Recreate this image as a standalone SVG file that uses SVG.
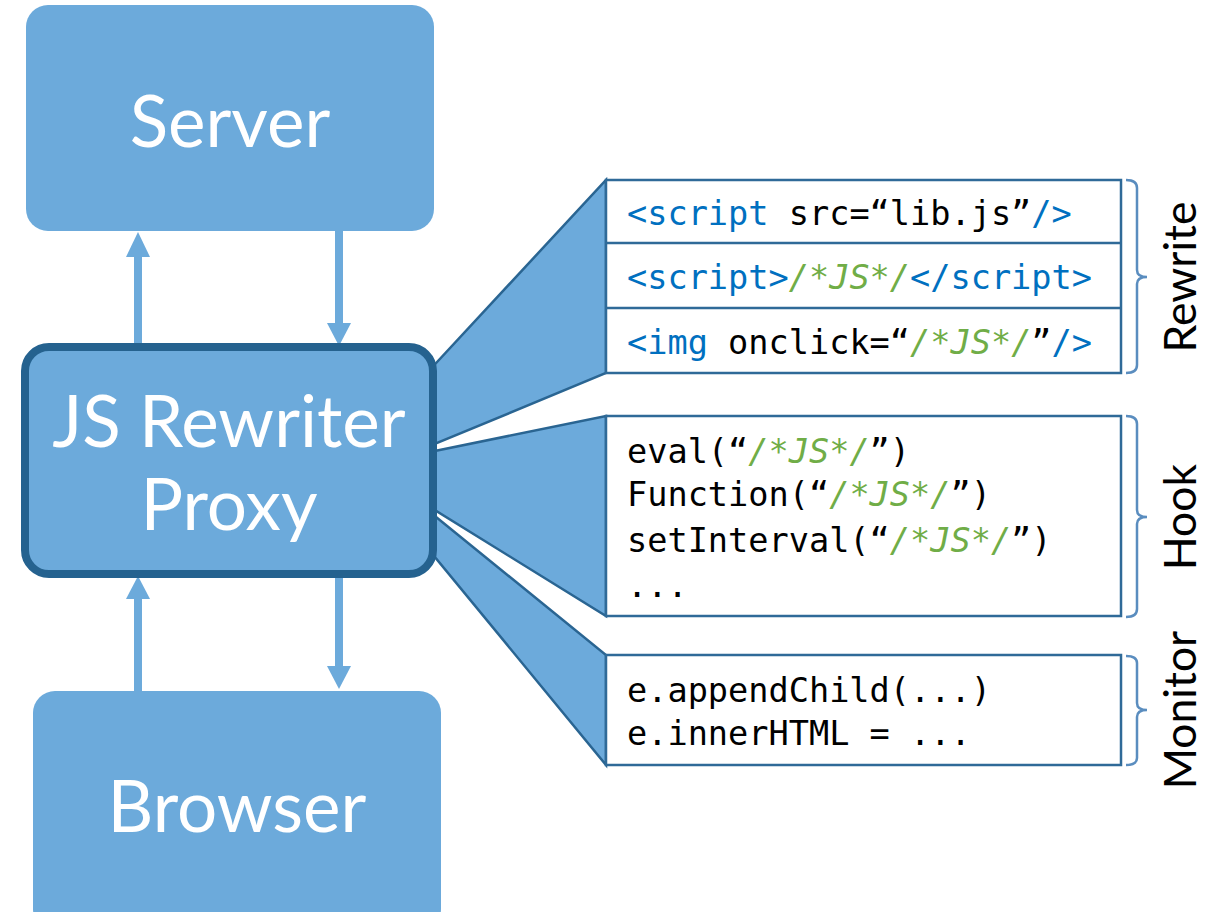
<svg xmlns="http://www.w3.org/2000/svg" width="1218" height="912" viewBox="0 0 1218 912">
<defs>
<style>
.box{fill:#6CAADB}
.lbl{font-family:Lato,"Open Sans","Liberation Sans",sans-serif;fill:#fff;font-size:71px;text-anchor:middle}
.side{font-family:Lato,"Open Sans","Liberation Sans",sans-serif;fill:#000;font-size:44.5px;text-anchor:middle}
.funnel{fill:#6CAADB;stroke:#2A6592;stroke-width:2.5;stroke-linejoin:miter}
.panel{fill:#fff;stroke:#2F6A98;stroke-width:2.5}
.brace{fill:none;stroke:#5A8DBF;stroke-width:2.5}
.code{font-family:"DejaVu Sans Mono","Liberation Mono",monospace;font-size:33.6px;fill:#000}
.k{fill:#0070C0}
.g{fill:#70AD47;font-style:italic}
.arr{stroke:#6CAADB;stroke-width:8;fill:none}
.head{fill:#6CAADB}
</style>
</defs>
<g id="connectors">
<line class="arr" x1="138" y1="347" x2="138" y2="252"/>
<polygon class="head" points="126,257 150,257 138,232"/>
<line class="arr" x1="339" y1="231" x2="339" y2="326"/>
<polygon class="head" points="327,323 351,323 339,346"/>
<line class="arr" x1="138" y1="691" x2="138" y2="594"/>
<polygon class="head" points="126,599 150,599 138,576"/>
<line class="arr" x1="339" y1="576" x2="339" y2="669"/>
<polygon class="head" points="327,666 351,666 339,689"/>
</g>
<g id="funnels">
<polygon class="funnel" points="425,375 606,180 606,373 425,448"/>
<polygon class="funnel" points="425,453 606,416 606,616 425,504"/>
<polygon class="funnel" points="425,508 606,655 606,765 425,545"/>
</g>
<g id="server">
<rect class="box" x="26" y="5" width="408" height="226" rx="22"/>
<text class="lbl" x="230" y="147">Server</text>
</g>
<g id="proxy">
<rect x="25" y="347" width="408" height="227" rx="24" fill="#6CAADB" stroke="#25628F" stroke-width="8"/>
<text class="lbl" x="229" y="447">JS Rewriter</text>
<text class="lbl" x="229" y="530">Proxy</text>
</g>
<g id="browser">
<rect class="box" x="33" y="691" width="408" height="240" rx="22"/>
<text class="lbl" x="237" y="832">Browser</text>
</g>
<g id="rewrite">
<rect class="panel" x="606" y="180" width="515" height="193"/>
<line class="panel" x1="606" y1="243" x2="1121" y2="243"/>
<line class="panel" x1="606" y1="308" x2="1121" y2="308"/>
<text class="code" x="627" y="225"><tspan class="k">&lt;script</tspan> src=“lib.js”<tspan class="k">/&gt;</tspan></text>
<text class="code" x="627" y="289"><tspan class="k">&lt;script&gt;</tspan><tspan class="g">/*JS*/</tspan><tspan class="k">&lt;/script&gt;</tspan></text>
<text class="code" x="627" y="354"><tspan class="k">&lt;img</tspan> onclick=“<tspan class="g">/*JS*/</tspan>”<tspan class="k">/&gt;</tspan></text>
<path class="brace" d="M1126,180 Q1137,180 1137,188 L1137,270 Q1137,277 1147,277 Q1137,277 1137,284 L1137,365 Q1137,373 1126,373"/>
<text class="side" transform="translate(1196,277) rotate(-90)">Rewrite</text>
</g>
<g id="hook">
<rect class="panel" x="606" y="416" width="515" height="200"/>
<text class="code" x="627" y="463">eval(“<tspan class="g">/*JS*/</tspan>”)</text>
<text class="code" x="627" y="506">Function(“<tspan class="g">/*JS*/</tspan>”)</text>
<text class="code" x="627" y="552">setInterval(“<tspan class="g">/*JS*/</tspan>”)</text>
<text class="code" x="627" y="597">...</text>
<path class="brace" d="M1126,416 Q1137,416 1137,424 L1137,510 Q1137,517 1147,517 Q1137,517 1137,524 L1137,609 Q1137,617 1126,617"/>
<text class="side" transform="translate(1196,517) rotate(-90)">Hook</text>
</g>
<g id="monitor">
<rect class="panel" x="606" y="655" width="515" height="110"/>
<text class="code" x="627" y="702">e.appendChild(...)</text>
<text class="code" x="627" y="745">e.innerHTML = ...</text>
<path class="brace" d="M1126,656 Q1137,656 1137,663 L1137,703 Q1137,710 1147,710 Q1137,710 1137,717 L1137,758 Q1137,765 1126,765"/>
<text class="side" transform="translate(1196,710) rotate(-90)">Monitor</text>
</g>
</svg>
